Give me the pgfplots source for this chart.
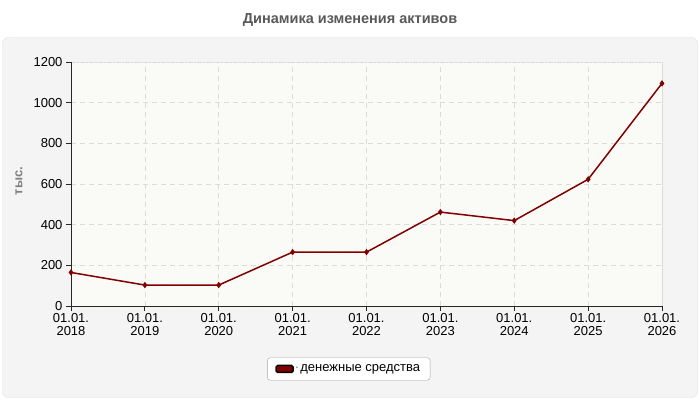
\documentclass[border=0pt]{standalone}
\usepackage{pgfplots}
\pgfplotsset{compat=1.18}
\usepackage{fontspec}
\setmainfont{Liberation Sans}
\usetikzlibrary{patterns}
\definecolor{darkred}{HTML}{800000}
\definecolor{panelbg}{HTML}{F4F4F4}
\definecolor{plotbg}{HTML}{FDFDF8}
\begin{document}
\begin{tikzpicture}[x=1pt,y=1pt]
\fill[white] (0,0) rectangle (700,-400);
\draw[draw=black!12, fill=panelbg, rounded corners=6pt] (2.5,-37.5) rectangle (697.5,-397.5);
\node[font=\fontsize{14.5}{16}\selectfont\bfseries, text=black!65] at (350,-20) {Динамика изменения активов};
\node[rotate=90, font=\fontsize{13}{15}\selectfont\bfseries, text=black!50] at (19,-181) {тыс.};
\begin{axis}[
  at={(71pt,-306pt)}, anchor=south west,
  width=591pt, height=244pt, scale only axis,
  xmin=0, xmax=8, ymin=0, ymax=1200,
  xtick={0,...,8},
  xticklabels={{01.01.\\2018},{01.01.\\2019},{01.01.\\2020},{01.01.\\2021},{01.01.\\2022},{01.01.\\2023},{01.01.\\2024},{01.01.\\2025},{01.01.\\2026}},
  xticklabel style={align=center, font=\fontsize{13}{13}\selectfont, inner sep=2pt},
  yticklabel style={font=\fontsize{13}{15}\selectfont},
  ytick={0,200,...,1200},
  /pgf/number format/assume math mode=true,
  /pgf/number format/set thousands separator={},
  axis x line*=bottom, axis y line*=left,
  axis line style={black!85, line width=0.8pt, -},
  tick style={black!85, line width=0.8pt},
  major tick length=5pt, tick align=outside,
  grid=major,
  major grid style={black!14, dash pattern=on 5pt off 4pt, line width=0.7pt},
  axis background/.style={fill=plotbg, draw=black!15, postaction={pattern=north east lines, pattern color=black!3}},
  clip=false,
  legend style={at={(0.470,-0.258)}, anchor=center, draw=black!35, fill=white, rounded corners=3pt,
    font=\fontsize{13}{15}\selectfont, inner xsep=8pt, inner ysep=5pt},
  legend image code/.code={\draw[fill=darkred, draw=black, rounded corners=1.5pt] (0pt,-3.5pt) rectangle (17pt,3.5pt);},
]
\addplot[darkred, line width=1.5pt, mark=diamond*, mark size=2pt, mark options={solid}]
  coordinates {(0,165)(1,103)(2,103)(3,265)(4,265)(5,462)(6,420)(7,623)(8,1095)};
\addlegendentry{\raisebox{2pt}{\scriptsize -}\,денежные средства}
\end{axis}
\end{tikzpicture}
\end{document}
